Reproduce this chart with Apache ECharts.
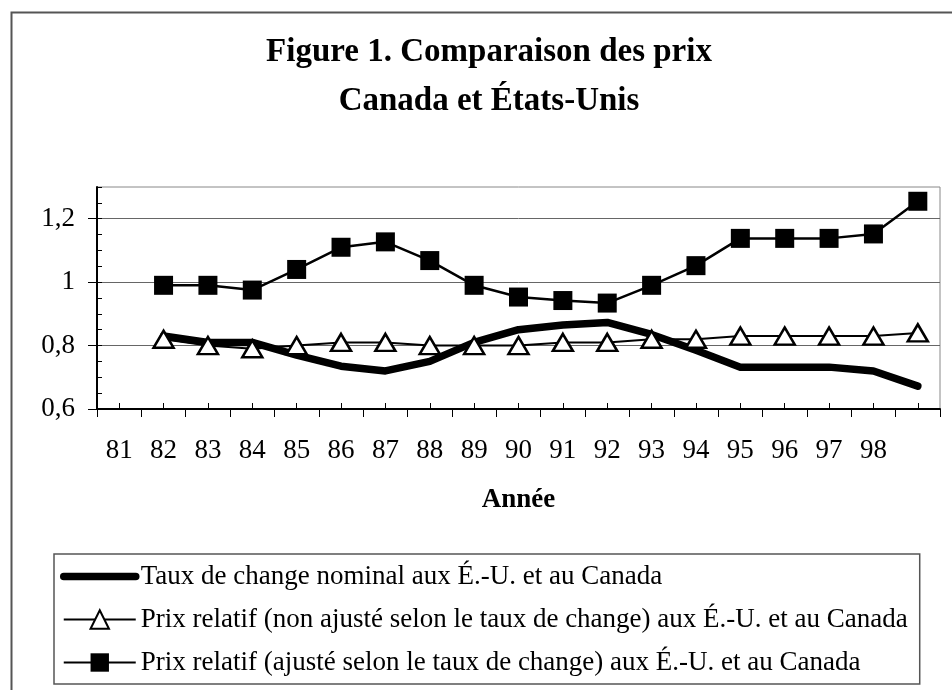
<!DOCTYPE html>
<html>
<head>
<meta charset="utf-8">
<script src="https://cdn.jsdelivr.net/npm/echarts@6/dist/echarts.min.js"></script>
<style>
    html, body { margin: 0; padding: 0; background: #fff; }
    #chart { width: 952px; height: 690px; }
</style>
</head>
<body>
<div id="chart"></div>
<script>
const FONT = 'Liberation Serif';

// ------------------ données ------------------
const years = ['81', '82', '83', '84', '85', '86', '87', '88', '89', '90',
    '91', '92', '93', '94', '95', '96', '97', '98', ''];
const nominal = [null, 0.83, 0.81, 0.81, 0.77, 0.735, 0.72, 0.75, 0.81, 0.85,
    0.865, 0.873, 0.835, 0.785, 0.732, 0.732, 0.732, 0.72, 0.672];
const nonAjuste = [null, 0.82, 0.80, 0.79, 0.80, 0.81, 0.81, 0.80, 0.80, 0.80,
    0.81, 0.81, 0.82, 0.82, 0.83, 0.83, 0.83, 0.83, 0.84];
const ajuste = [null, 0.99, 0.99, 0.975, 1.04, 1.11, 1.127, 1.068, 0.99, 0.953,
    0.942, 0.934, 0.99, 1.052, 1.138, 1.138, 1.138, 1.152, 1.255];
const yTicks = [0.6, 0.8, 1, 1.2];
const seriesNames = [
    'Taux de change nominal aux É.-U. et au Canada',
    'Prix relatif (non ajusté selon le taux de change) aux É.-U. et au Canada',
    'Prix relatif (ajusté selon le taux de change) aux É.-U. et au Canada'
];

let myChart = echarts.init(document.getElementById('chart'));

let option = {
    backgroundColor: '#fff',
    animation: false,
    textStyle: {fontFamily: FONT, color: '#000'},
    graphic: [
        {
            type: 'rect', silent: true, z: -1,
            shape: {x: 11.5, y: 12.5, width: 1000, height: 800},
            style: {fill: 'none', stroke: '#555', lineWidth: 2}
        },
        {
            type: 'text', x: 489, y: 52,
            style: {
                text: 'Figure 1. Comparaison des prix', fontFamily: FONT, fontSize: 33,
                fontWeight: 'bold', fill: '#000', textAlign: 'center', textVerticalAlign: 'middle'
            }
        },
        {
            type: 'text', x: 489, y: 101,
            style: {
                text: 'Canada et États-Unis', fontFamily: FONT, fontSize: 33,
                fontWeight: 'bold', fill: '#000', textAlign: 'center', textVerticalAlign: 'middle'
            }
        }
    ],
    grid: {
        left: 97, right: 12, top: 187, bottom: 281,
        show: true, borderColor: '#888', borderWidth: 1
    },
    legend: {
        orient: 'vertical',
        left: 54, top: 554,
        padding: [9, 12, 8, 6],
        itemWidth: 72, itemHeight: 23, itemGap: 16,
        borderColor: '#555', borderWidth: 1.5,
        textStyle: {fontFamily: FONT, fontSize: 27, lineHeight: 27, color: '#000'},
        data: [
            {name: seriesNames[0], itemStyle: {opacity: 0}, lineStyle: {width: 7.5, cap: 'round'}},
            {name: seriesNames[1]},
            {name: seriesNames[2]}
        ]
    },
    xAxis: [
        {
            type: 'category', data: years, boundaryGap: true,
            name: 'Année', nameLocation: 'middle', nameGap: 78,
            nameTextStyle: {fontFamily: FONT, fontSize: 27, fontWeight: 'bold', color: '#000'},
            axisLine: {lineStyle: {color: '#000', width: 2}},
            axisTick: {show: true, length: 8, lineStyle: {color: '#000', width: 1}},
            axisLabel: {interval: 0, margin: 28, fontFamily: FONT, fontSize: 27, color: '#000'},
            splitLine: {show: false}
        },
        {
            type: 'category', data: years, boundaryGap: true, position: 'bottom',
            axisLine: {show: false},
            axisTick: {show: true, inside: true, alignWithLabel: true, interval: 0, length: 6,
                lineStyle: {color: '#000', width: 1}},
            axisLabel: {show: false},
            splitLine: {show: false}
        }
    ],
    yAxis: [
        {
            type: 'value', min: 0.6, max: 1.3, interval: 0.2,
            axisLine: {show: true, lineStyle: {color: '#000', width: 2}},
            axisTick: {show: true, length: 9, customValues: yTicks, lineStyle: {color: '#000', width: 1}},
            axisLabel: {
                margin: 22, fontFamily: FONT, fontSize: 27, color: '#000',
                customValues: yTicks,
                formatter: function (v) {
                    return String(v).replace('.', ',');
                }
            },
            splitLine: {show: true, lineStyle: {color: '#666', width: 1}}
        },
        {
            // petites graduations
            type: 'value', min: 0.6, max: 1.3, interval: 0.05, position: 'left',
            axisLine: {show: false},
            axisTick: {show: true, inside: true, length: 5, lineStyle: {color: '#000', width: 1}},
            axisLabel: {show: false},
            splitLine: {show: false}
        }
    ],
    series: [
        {
            name: seriesNames[0], type: 'line', data: nominal,
            symbol: 'none', showSymbol: false,
            lineStyle: {color: '#000', width: 7.5, cap: 'round', join: 'round'},
            itemStyle: {color: '#000'},
            z: 2
        },
        {
            name: seriesNames[1], type: 'line', data: nonAjuste,
            symbol: 'triangle', symbolSize: [20, 17],
            lineStyle: {color: '#000', width: 2},
            itemStyle: {color: '#fff', borderColor: '#000', borderWidth: 2.5},
            z: 3
        },
        {
            name: seriesNames[2], type: 'line', data: ajuste,
            symbol: 'rect', symbolSize: 19,
            lineStyle: {color: '#000', width: 2.5},
            itemStyle: {color: '#000', borderColor: '#000', borderWidth: 0},
            z: 4
        }
    ]
};

if (option && typeof option === "object") {
    myChart.setOption(option, true);
}
</script>
</body>
</html>
